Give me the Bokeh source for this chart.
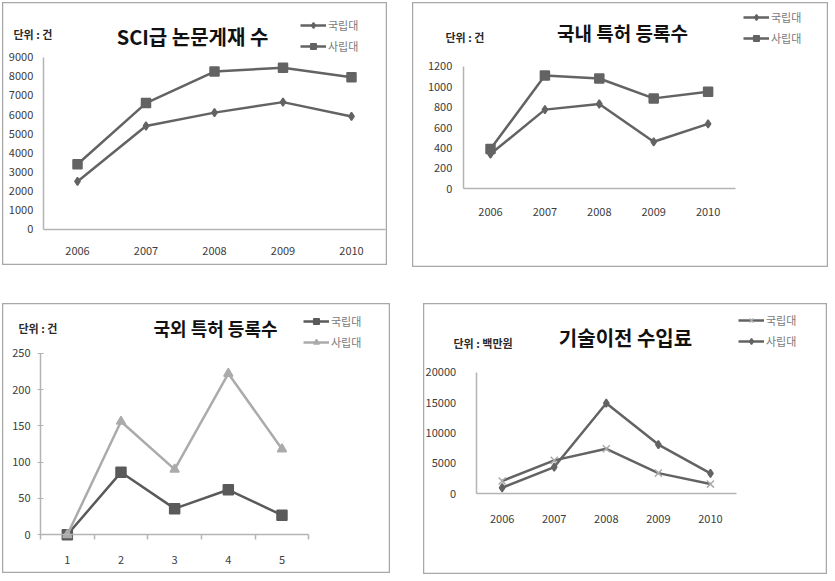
from bokeh.plotting import figure
from bokeh.models import Range1d, Label, Legend, LegendItem, Spacer, FixedTicker
from bokeh.layouts import row, column
from bokeh.embed import file_html
from bokeh.resources import INLINE

# ---------------- data ----------------
years = ["2006", "2007", "2008", "2009", "2010"]
series_names = ["국립대", "사립대"]

sci_national = [2500, 5400, 6100, 6650, 5900]
sci_private = [3400, 6600, 8250, 8450, 7950]

dom_national = [340, 775, 830, 460, 635]
dom_private = [390, 1110, 1080, 885, 950]

idx_labels = ["1", "2", "3", "4", "5"]
for_national = [0, 86, 36, 62, 27]
for_private = [0, 156, 90, 222, 118]

tech_national = [2100, 5500, 7400, 3400, 1600]
tech_private = [1000, 4400, 14900, 8100, 3350]

titles = ["SCI급 논문게재 수", "국내 특허 등록수", "국외 특허 등록수", "기술이전 수입료"]
units = ["단위 : 건", "단위 : 건", "단위 : 건", "단위 : 백만원"]

FONT = "Noto Sans CJK KR"
DARK = "#636363"
LIGHT = "#ababab"
AXIS = "#b4b4b4"


def make_panel(w, h, plot_box, cats, ymax, ystep, x_standoff, y_standoff,
               title, title_xy, title_size, unit, unit_xy, series, legend_xy,
               ticked=False):
    # plot_box: pixel positions (in the panel) of category edge 0.5, edge n+0.5,
    # value 0 and value ymax
    xl, xr, yb, yt = plot_box
    n = len(cats)
    xs = list(range(1, n + 1))
    dx = n / (xr - xl)
    dy = ymax / (yb - yt)
    x_range = Range1d(0.5 - xl * dx, n + 0.5 + (w - xr) * dx)
    y_range = Range1d(0 - (h - yb) * dy, ymax + yt * dy)

    p = figure(width=w, height=h, x_range=x_range, y_range=y_range,
               output_backend="svg", toolbar_location=None, title=None,
               min_border=0, background_fill_color="white", border_fill_color="white")
    p.outline_line_color = "#a8a8a8"
    p.outline_line_width = 1.5
    p.xgrid.visible = False
    p.ygrid.visible = False

    xa = p.xaxis[0]
    ya = p.yaxis[0]
    xa.fixed_location = 0
    ya.fixed_location = 0.5
    xa.bounds = (0.5, n + 0.5)
    ya.bounds = (0, ymax)
    xa.ticker = FixedTicker(ticks=xs, minor_ticks=[i + 0.5 for i in range(0, n + 1)])
    xa.major_label_overrides = {x: c for x, c in zip(xs, cats)}
    ya.ticker = FixedTicker(ticks=list(range(0, ymax + 1, ystep)))
    for ax in (xa, ya):
        ax.axis_line_color = AXIS
        ax.axis_line_width = 1.5
        ax.major_label_text_font = FONT
        ax.major_label_text_font_size = "11px"
        ax.major_label_text_color = "#3c3c3c"
        ax.minor_tick_line_color = None
        ax.major_tick_line_color = None
        ax.major_tick_out = 0
        ax.major_tick_in = 0
    xa.major_label_standoff = x_standoff
    ya.major_label_standoff = y_standoff
    if ticked:
        ya.major_tick_line_color = AXIS
        ya.major_tick_out = 3
        ya.major_tick_in = 3
        xa.minor_tick_line_color = AXIS
        xa.minor_tick_line_width = 1.5
        xa.minor_tick_out = 5
        xa.minor_tick_in = 0

    def to_data(px, py):
        return x_range.start + px * dx, y_range.end - py * dy

    tx, ty = to_data(*title_xy)
    p.add_layout(Label(x=tx, y=ty, text=title, text_font=FONT, text_font_style="bold",
                       text_font_size=title_size, text_align="center",
                       text_baseline="middle", text_color="#111111"))
    ux, uy = to_data(*unit_xy)
    p.add_layout(Label(x=ux, y=uy, text=unit, text_font=FONT, text_font_style="bold",
                       text_font_size="11px", text_align="left",
                       text_baseline="middle", text_color="#2a2a2a"))

    items = []
    for name, vals, color, lw, marker, msize, mfill, mline in series:
        r1 = p.line(xs, vals, line_color=color, line_width=lw)
        r2 = p.scatter(xs, vals, marker=marker, size=msize, fill_color=mfill,
                       line_color=mline, line_width=1.5)
        items.append(LegendItem(label=name, renderers=[r1, r2]))

    lx, ly_top = legend_xy
    glyph_h = 14
    spacing = 5
    leg_h = 2 * glyph_h + spacing
    legend = Legend(items=items, location=(lx, h - (ly_top + leg_h)),
                    glyph_width=26, glyph_height=glyph_h, spacing=spacing, padding=0,
                    margin=0, label_standoff=2, border_line_color=None,
                    background_fill_alpha=0, label_text_font=FONT,
                    label_text_font_size="11px", label_text_color="#7a7a7a")
    p.add_layout(legend, "center")
    return p


p1 = make_panel(385, 263, (40.75, 383.25, 226.7, 54.7), years, 9000, 1000, 14, 10,
                titles[0], (190, 34), "20px", units[0], (11, 31),
                [(series_names[0], sci_national, DARK, 2.5, "diamond", 8, DARK, DARK),
                 (series_names[1], sci_private, DARK, 2.5, "square", 9, DARK, DARK)],
                (298, 19))

p2 = make_panel(416, 265, (50.8, 322.8, 186.3, 63.7), years, 1200, 200, 15, 11,
                titles[1], (210, 30), "19px", units[1], (33, 34),
                [(series_names[0], dom_national, DARK, 2.5, "diamond", 8, DARK, DARK),
                 (series_names[1], dom_private, DARK, 2.5, "square", 9, DARK, DARK)],
                (331, 11))

p3 = make_panel(388, 270, (38, 306.3, 231.3, 49.7), idx_labels, 250, 50, 16, 7,
                titles[2], (213, 24), "18px", units[2], (16, 24),
                [(series_names[0], for_national, "#5a5a5a", 2.5, "square", 10, "#5a5a5a", "#5a5a5a"),
                 (series_names[1], for_private, LIGHT, 2.5, "triangle", 9, LIGHT, LIGHT)],
                (301, 14), ticked=True)

p4 = make_panel(404, 271, (52.6, 313, 190.3, 68.7), years, 20000, 5000, 17, 20,
                titles[3], (202, 34), "20px", units[3], (30, 39),
                [(series_names[0], tech_national, DARK, 2.5, "x", 10, LIGHT, LIGHT),
                 (series_names[1], tech_private, DARK, 2.5, "diamond", 8, DARK, DARK)],
                (315, 13))

layout = column(
    Spacer(height=2),
    row(Spacer(width=2), p1, Spacer(width=25), p2),
    Spacer(height=36),
    row(Spacer(width=2), p3, Spacer(width=33), p4),
)

open("out.html", "w").write(file_html(layout, INLINE))
